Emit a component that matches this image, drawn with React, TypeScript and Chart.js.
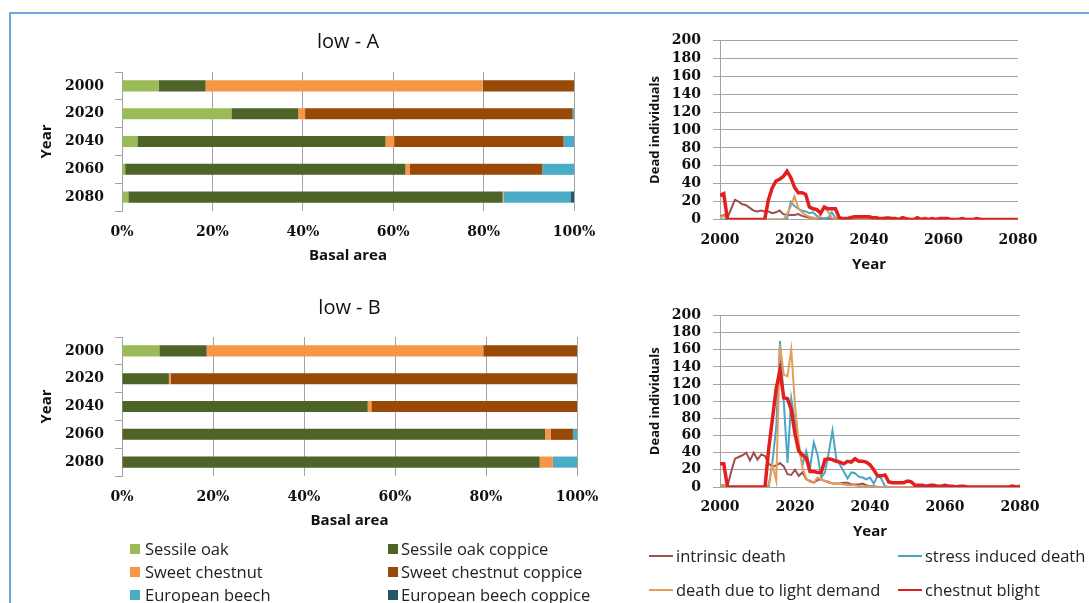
import React, { useEffect, useRef } from "react";
import { Chart, registerables } from "chart.js";

Chart.register(...registerables);

const SANS = "'Open Sans', 'Noto Sans', sans-serif";
const SERIF = "'DejaVu Serif', serif";
const TEXT = "#111111";
const GRID = "#a3a3a3";

// ---------- bar charts (basal area share, %) ----------
const BAR_YEARS = ["2000", "2020", "2040", "2060", "2080"];
const SPECIES = [
  "Sessile oak",
  "Sessile oak coppice",
  "Sweet chestnut",
  "Sweet chestnut coppice",
  "European beech",
  "European beech coppice",
];
const SPECIES_COLORS = ["#9BBB59", "#4F6228", "#F79646", "#984807", "#4BACC6", "#215968"];

const lowA_sessileOak = [8.1, 24.2, 3.4, 0.7, 1.4];
const lowA_sessileOakCoppice = [10.4, 14.8, 54.9, 62.0, 82.8];
const lowA_sweetChestnut = [61.3, 1.5, 1.9, 1.0, 0.2];
const lowA_sweetChestnutCoppice = [20.2, 59.2, 37.5, 29.3, 0];
const lowA_europeanBeech = [0, 0.3, 2.3, 7.0, 14.8];
const lowA_europeanBeechCoppice = [0, 0, 0, 0, 0.8];

const lowB_sessileOak = [8.2, 0, 0, 0, 0];
const lowB_sessileOakCoppice = [10.4, 10.3, 54.0, 93.0, 91.8];
const lowB_sweetChestnut = [60.8, 0.4, 0.8, 1.2, 2.9];
const lowB_sweetChestnutCoppice = [20.6, 89.3, 45.2, 4.9, 0];
const lowB_europeanBeech = [0, 0, 0, 0.9, 5.3];
const lowB_europeanBeechCoppice = [0, 0, 0, 0, 0];

// ---------- line charts (dead individuals per year, 2000..2080) ----------
const YEARS = Array.from({ length: 81 }, (_, i) => 2000 + i);
const LINE_SERIES = ["intrinsic death", "stress induced death", "death due to light demand", "chestnut blight"];
const LINE_COLORS = ["#A04F4C", "#4AA6C4", "#E39D58", "#E41E1E"];
const LINE_WIDTHS = [2, 2, 2, 3.5];

const lowA_intrinsic = [
  3, 5, 2, 12, 22, 20, 17, 16, 13, 10,
  9, 10, 9, 9, 7, 8, 10, 6, 5, 5,
  5, 6, 4, 3, 2, 2, 1, 1, 1, 1,
  1, 0, 0, 0, 0, 0, 0, 0, 0, 0,
  0, 0, 0, 0, 0, 2, 1, 0, 0, 0,
  0, 0, 0, 0, 0, 0, 0, 0, 0, 0,
  0, 0, 0, 0, 0, 0, 0, 0, 0, 0,
  0, 0, 0, 0, 0, 0, 0, 0, 0, 0,
  0,
];
const lowA_stress = [
  0, 0, 0, 0, 0, 0, 0, 0, 0, 0,
  0, 0, 0, 0, 0, 0, 0, 0, 1, 20,
  15, 12, 10, 9, 7, 8, 4, 2, 1, 2,
  8, 2, 0, 0, 0, 0, 0, 0, 0, 0,
  0, 0, 0, 0, 2, 3, 2, 0, 0, 0,
  0, 0, 0, 0, 0, 0, 0, 0, 0, 0,
  0, 0, 0, 0, 0, 0, 0, 0, 0, 0,
  0, 0, 0, 0, 0, 0, 0, 0, 0, 0,
  0,
];
const lowA_light = [
  2, 4, 0, 0, 0, 0, 0, 0, 0, 0,
  0, 0, 0, 0, 0, 0, 0, 0, 6, 15,
  26, 13, 8, 5, 3, 2, 1, 5, 13, 9,
  2, 1, 0, 0, 0, 0, 0, 0, 0, 0,
  0, 0, 0, 0, 0, 0, 0, 0, 0, 0,
  0, 0, 0, 0, 0, 0, 0, 0, 0, 0,
  0, 0, 0, 0, 0, 0, 0, 0, 0, 0,
  0, 0, 0, 0, 0, 0, 0, 0, 0, 0,
  0,
];
const lowA_blight = [
  27, 29, 0, 0, 0, 0, 0, 0, 0, 0,
  0, 0, 0, 22, 35, 43, 45, 48, 54, 47,
  36, 30, 30, 28, 14, 12, 11, 7, 14, 12,
  12, 12, 2, 1, 1, 2, 3, 3, 3, 3,
  3, 2, 2, 1, 1, 1, 1, 1, 0, 2,
  1, 0, 0, 2, 0, 1, 0, 1, 0, 1,
  1, 1, 0, 0, 0, 1, 0, 0, 0, 1,
  0, 0, 0, 0, 0, 0, 0, 0, 0, 0,
  0,
];

const lowB_intrinsic = [
  2, 2, 1, 18, 33, 35, 37, 40, 31, 40,
  32, 38, 36, 27, 24, 25, 28, 24, 15, 14,
  20, 13, 17, 9, 7, 5, 8, 9, 7, 6,
  4, 4, 4, 5, 5, 3, 3, 3, 4, 2,
  1, 1, 0, 0, 0, 0, 0, 0, 0, 0,
  0, 0, 0, 0, 0, 0, 0, 0, 0, 0,
  0, 0, 0, 0, 0, 0, 0, 0, 0, 0,
  0, 0, 0, 0, 0, 0, 0, 0, 0, 0,
  0,
];
const lowB_stress = [
  0, 0, 0, 0, 0, 0, 0, 0, 0, 0,
  0, 0, 0, 0, 30, 70, 170, 100, 28, 103,
  75, 45, 26, 42, 22, 52, 38, 11, 17, 40,
  66, 33, 26, 18, 10, 17, 16, 12, 11, 9,
  11, 4, 13, 10, 1, 0, 0, 0, 0, 0,
  0, 0, 0, 0, 0, 0, 0, 0, 0, 0,
  0, 0, 0, 0, 0, 0, 0, 0, 0, 0,
  0, 0, 0, 0, 0, 0, 0, 0, 0, 0,
  0,
];
const lowB_light = [
  2, 2, 0, 0, 0, 0, 0, 0, 0, 0,
  0, 0, 0, 3, 26, 7, 166, 131, 129, 160,
  95, 52, 22, 10, 6, 5, 11, 9, 7, 5,
  4, 4, 4, 3, 2, 2, 2, 1, 1, 1,
  1, 0, 0, 0, 0, 0, 0, 0, 0, 0,
  0, 0, 0, 0, 0, 0, 0, 0, 0, 0,
  0, 0, 0, 0, 0, 0, 0, 0, 0, 0,
  0, 0, 0, 0, 0, 0, 0, 0, 0, 0,
  0,
];
const lowB_blight = [
  27, 27, 0, 0, 0, 0, 0, 0, 0, 0,
  0, 0, 0, 45, 80, 115, 136, 104, 103, 90,
  62, 42, 37, 34, 18, 18, 17, 17, 32, 33,
  32, 30, 29, 27, 30, 29, 33, 30, 30, 29,
  26, 20, 13, 13, 14, 6, 5, 5, 5, 5,
  7, 6, 2, 2, 2, 1, 2, 2, 1, 1,
  2, 1, 1, 0, 1, 1, 0, 0, 0, 0,
  0, 0, 0, 0, 0, 0, 0, 0, 1, 0,
  1,
];

const X_TICK_STEP = 20;
const Y_TICK_STEP = 20;

function barConfig(title: string, series: number[][], padRight: number, titleTop: number, titleBottom: number): any {
  return {
    type: "bar",
    data: {
      labels: BAR_YEARS,
      datasets: SPECIES.map((name, k) => ({
        label: name,
        data: series[k],
        backgroundColor: SPECIES_COLORS[k],
        borderWidth: 0,
        barPercentage: 0.4,
        categoryPercentage: 1,
      })),
    },
    options: {
      indexAxis: "y",
      responsive: false,
      animation: false,
      layout: { padding: { left: 0, right: padRight, top: 0, bottom: 0 } },
      plugins: {
        legend: { display: false },
        tooltip: { enabled: false },
        title: {
          display: true,
          text: title,
          fullSize: false,
          color: TEXT,
          font: { family: SANS, size: 20, weight: "normal" },
          padding: { top: titleTop, bottom: titleBottom },
        },
      },
      scales: {
        x: {
          stacked: true,
          min: 0,
          max: 100,
          ticks: {
            stepSize: X_TICK_STEP,
            callback: (v: any) => v + "%",
            color: TEXT,
            font: { family: SERIF, size: 14, weight: "bold" },
            padding: 0,
            maxRotation: 0,
            autoSkip: false,
          },
          grid: { color: GRID, drawTicks: true, tickLength: 12.5, tickColor: "rgba(0,0,0,0)", lineWidth: 1 },
          border: { display: false },
          title: {
            display: true,
            text: "Basal area",
            color: TEXT,
            font: { family: SANS, size: 15, weight: "bold" },
            padding: { top: 0, bottom: 15 },
          },
          afterFit: (s: any) => {
            s.height = 69;
          },
        },
        y: {
          stacked: true,
          ticks: {
            color: TEXT,
            font: { family: SERIF, size: 14, weight: "bold" },
            padding: 11,
            autoSkip: false,
          },
          grid: { drawOnChartArea: false, drawTicks: true, tickLength: 7, color: GRID, offset: true },
          border: { display: true, color: GRID },
          title: {
            display: true,
            text: "Year",
            color: TEXT,
            font: { family: SANS, size: 15, weight: "bold" },
            padding: { top: 38, bottom: 0 },
          },
          afterFit: (s: any) => {
            s.width = 122;
          },
        },
      },
    },
  };
}

function lineConfig(series: number[][], padTop: number, padRight: number, xHeight: number, xTitleBottom: number): any {
  return {
    type: "line",
    data: {
      datasets: LINE_SERIES.map((name, k) => ({
        label: name,
        data: YEARS.map((x, i) => ({ x, y: series[k][i] })),
        borderColor: LINE_COLORS[k],
        backgroundColor: LINE_COLORS[k],
        borderWidth: LINE_WIDTHS[k],
        pointRadius: 0,
        tension: 0,
        fill: false,
        order: 3 - k,
      })),
    },
    options: {
      responsive: false,
      animation: false,
      layout: { padding: { left: 0, right: padRight, top: padTop, bottom: 0 } },
      plugins: { legend: { display: false }, tooltip: { enabled: false } },
      scales: {
        x: {
          type: "linear",
          min: 2000,
          max: 2080,
          ticks: {
            stepSize: X_TICK_STEP,
            callback: (v: any) => String(v),
            color: TEXT,
            font: { family: SERIF, size: 14, weight: "bold" },
            padding: 12,
            maxRotation: 0,
            autoSkip: false,
          },
          grid: { display: false, drawTicks: false },
          border: { display: false },
          title: {
            display: true,
            text: "Year",
            color: TEXT,
            font: { family: SANS, size: 15, weight: "bold" },
            padding: { top: 0, bottom: xTitleBottom },
          },
          afterFit: (s: any) => {
            s.height = xHeight;
          },
        },
        y: {
          min: 0,
          max: 200,
          ticks: {
            stepSize: Y_TICK_STEP,
            color: TEXT,
            font: { family: SERIF, size: 14, weight: "bold" },
            padding: 12,
            autoSkip: false,
          },
          grid: { color: GRID, tickLength: 7, lineWidth: 1 },
          border: { display: true, color: GRID },
          title: {
            display: true,
            text: "Dead individuals",
            color: TEXT,
            font: { family: SANS, size: 13, weight: "bold" },
            padding: { top: 47, bottom: 0 },
          },
          afterFit: (s: any) => {
            s.width = 120;
          },
        },
      },
    },
  };
}

function ChartCanvas(props: { left: number; top: number; width: number; height: number; make: () => any }) {
  const ref = useRef<HTMLCanvasElement>(null);
  useEffect(() => {
    const chart = new Chart(ref.current as HTMLCanvasElement, props.make());
    return () => chart.destroy();
  }, []);
  return (
    <canvas
      ref={ref}
      width={props.width}
      height={props.height}
      style={{ position: "absolute", left: props.left, top: props.top, width: props.width, height: props.height }}
    />
  );
}

const BAR_LEGEND_ROWS = [549, 572, 595];
const BAR_LEGEND_SQUARE_X = [130, 388];
const BAR_LEGEND_TEXT_X = [145, 401];
const LINE_LEGEND_ROWS = [556, 590];
const LINE_LEGEND_LINE_X = [649, 898];
const LINE_LEGEND_TEXT_X = [676, 925];
const LINE_LEGEND_ORDER = [0, 1, 2, 3];

export default function App() {
  const legendText: React.CSSProperties = {
    position: "absolute",
    fontFamily: SANS,
    fontSize: 16.5,
    lineHeight: "24px",
    color: "#222",
    whiteSpace: "nowrap",
  };
  return (
    <div style={{ position: "absolute", left: 0, top: 0, width: 1089, height: 603, overflow: "hidden", background: "#fff" }}>
      <div
        style={{
          position: "absolute",
          left: 9,
          top: 12,
          width: 1100,
          height: 620,
          borderTop: "2px solid #6CA6E0",
          borderLeft: "2px solid #6CA6E0",
        }}
      />
      <ChartCanvas
        left={0}
        top={20}
        width={600}
        height={260}
        make={() =>
          barConfig(
            "low - A",
            [lowA_sessileOak, lowA_sessileOakCoppice, lowA_sweetChestnut, lowA_sweetChestnutCoppice, lowA_europeanBeech, lowA_europeanBeechCoppice],
            26,
            10,
            18
          )
        }
      />
      <ChartCanvas
        left={0}
        top={285}
        width={600}
        height={260}
        make={() =>
          barConfig(
            "low - B",
            [lowB_sessileOak, lowB_sessileOakCoppice, lowB_sweetChestnut, lowB_sweetChestnutCoppice, lowB_europeanBeech, lowB_europeanBeechCoppice],
            23,
            11,
            17
          )
        }
      />
      <ChartCanvas
        left={600}
        top={20}
        width={489}
        height={260}
        make={() => lineConfig([lowA_intrinsic, lowA_stress, lowA_light, lowA_blight], 12, 71, 60.5, 6)}
      />
      <ChartCanvas
        left={600}
        top={295}
        width={489}
        height={250}
        make={() => lineConfig([lowB_intrinsic, lowB_stress, lowB_light, lowB_blight], 11, 69, 58, 4)}
      />
      {SPECIES.map((name, k) => {
        const row = Math.floor(k / 2);
        const col = k % 2;
        const y = BAR_LEGEND_ROWS[row];
        return (
          <React.Fragment key={name}>
            <div
              style={{
                position: "absolute",
                left: BAR_LEGEND_SQUARE_X[col],
                top: y - 5,
                width: 10,
                height: 10,
                background: SPECIES_COLORS[k],
              }}
            />
            <div style={{ ...legendText, left: BAR_LEGEND_TEXT_X[col], top: y - 12 }}>{name}</div>
          </React.Fragment>
        );
      })}
      {LINE_LEGEND_ORDER.map((k, pos) => {
        const row = Math.floor(pos / 2);
        const col = pos % 2;
        const y = LINE_LEGEND_ROWS[row];
        return (
          <React.Fragment key={LINE_SERIES[k]}>
            <div
              style={{
                position: "absolute",
                left: LINE_LEGEND_LINE_X[col],
                top: y - 1,
                width: 24,
                height: 2,
                background: LINE_COLORS[k],
              }}
            />
            <div style={{ ...legendText, left: LINE_LEGEND_TEXT_X[col], top: y - 12 }}>{LINE_SERIES[k]}</div>
          </React.Fragment>
        );
      })}
    </div>
  );
}
